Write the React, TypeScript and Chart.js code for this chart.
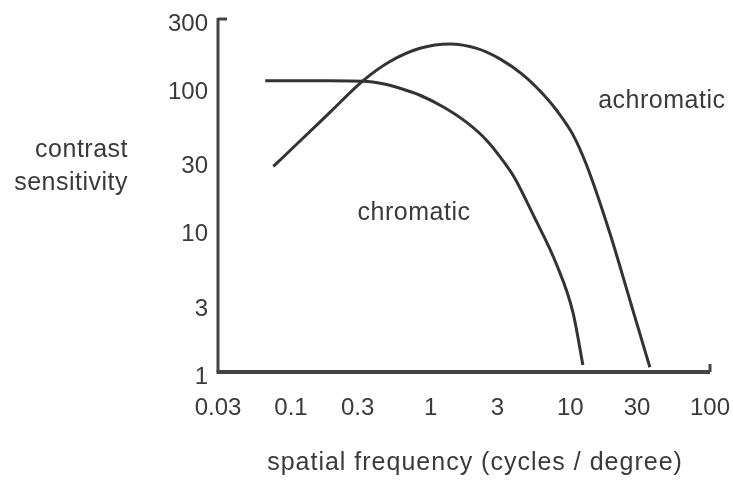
import React, { useEffect, useRef } from "react";
import { Chart, registerables } from "chart.js";

Chart.register(...registerables);

const xTickValues = [0.03, 0.1, 0.3, 1, 3, 10, 30, 100];
const yTickValues = [1, 3, 10, 30, 100, 300];

const achromaticFreq = [0.0747, 0.116, 0.19, 0.327, 0.511, 0.838, 1.374, 2.14, 3.13, 4.58, 6.05, 8.02, 10.43, 13.1, 19.2, 26.7, 37.1];
const achromaticSens = [27.7, 41.8, 66.4, 110.5, 151, 187, 200.6, 186.6, 157.5, 121.7, 94, 68.1, 46.3, 28.1, 9.4, 3.19, 1.08];

const chromaticFreq = [0.0653, 0.188, 0.331, 0.455, 0.603, 0.838, 1.224, 1.82, 2.53, 3.29, 4.01, 5.39, 8.01, 10.43, 12.3];
const chromaticSens = [110.7, 110.7, 109.8, 105.3, 97.9, 87.5, 72.7, 56.2, 42, 30.4, 22.8, 12.8, 5.61, 2.63, 1.12];

const seriesLabels = ["achromatic", "chromatic"];
const labelAnchors = [
  { x: 45.2, y: 80 },
  { x: 0.76, y: 12.96 },
];

const yTitleLines = ["contrast", "sensitivity"];
const xTitle = "spatial frequency (cycles / degree)";

const FONT = '"Liberation Sans", Arial, Helvetica, sans-serif';
const INK = "#3a3a3a";
const LINE = "#333333";

const decorPlugin = {
  id: "decor",
  afterDraw(chart: any) {
    const { ctx, chartArea, scales } = chart;
    const { left, right, top, bottom } = chartArea;
    ctx.save();
    ctx.strokeStyle = "#444444";
    ctx.lineCap = "butt";
    ctx.lineWidth = 3;
    ctx.beginPath();
    ctx.moveTo(left, top - 1);
    ctx.lineTo(left, bottom);
    ctx.stroke();
    ctx.lineWidth = 4;
    ctx.beginPath();
    ctx.moveTo(left - 1.5, bottom);
    ctx.lineTo(right, bottom);
    ctx.stroke();
    ctx.lineWidth = 3;
    ctx.beginPath();
    ctx.moveTo(left, top);
    ctx.lineTo(left + 9, top);
    ctx.stroke();
    ctx.beginPath();
    ctx.moveTo(right, bottom);
    ctx.lineTo(right, bottom - 8);
    ctx.stroke();

    ctx.fillStyle = INK;
    ctx.font = `25px ${FONT}`;
    (ctx as any).letterSpacing = "0.5px";
    ctx.textAlign = "center";
    ctx.textBaseline = "middle";
    seriesLabels.forEach((t, i) => {
      const px = scales.x.getPixelForValue(labelAnchors[i].x);
      const py = scales.y.getPixelForValue(labelAnchors[i].y);
      ctx.fillText(t, px, py);
    });

    ctx.textAlign = "right";
    ctx.fillText(yTitleLines[0], left - 90, top + 131);
    ctx.fillText(yTitleLines[1], left - 90, top + 164);

    ctx.textAlign = "center";
    (ctx as any).letterSpacing = "1px";
    ctx.fillText(xTitle, 475, bottom + 91);
    ctx.restore();
  },
};

export default function App() {
  const ref = useRef<HTMLCanvasElement | null>(null);

  useEffect(() => {
    document.body.style.margin = "0";
    const canvas = ref.current!;
    const chart = new Chart(canvas, {
      type: "line",
      data: {
        datasets: [
          {
            label: seriesLabels[0],
            data: achromaticFreq.map((f, i) => ({ x: f, y: achromaticSens[i] })),
            borderColor: LINE,
            borderWidth: 3,
            pointRadius: 0,
            cubicInterpolationMode: "monotone",
            fill: false,
          },
          {
            label: seriesLabels[1],
            data: chromaticFreq.map((f, i) => ({ x: f, y: chromaticSens[i] })),
            borderColor: LINE,
            borderWidth: 3,
            pointRadius: 0,
            cubicInterpolationMode: "monotone",
            fill: false,
          },
        ],
      },
      options: {
        animation: false,
        responsive: false,
        devicePixelRatio: 1,
        layout: { padding: { top: 19, right: 23, bottom: 0, left: 0 } },
        plugins: {
          legend: { display: false },
          tooltip: { enabled: false },
          title: { display: false },
        },
        scales: {
          x: {
            type: "logarithmic",
            min: 0.03,
            max: 100,
            grid: { display: false, drawTicks: false },
            border: { display: false },
            afterFit: (s: any) => {
              s.height = 109;
              s.paddingLeft = 0;
              s.paddingRight = 0;
            },
            afterBuildTicks: (s: any) => {
              s.ticks = xTickValues.map((v) => ({ value: v }));
            },
            ticks: {
              autoSkip: false,
              maxRotation: 0,
              padding: 22,
              color: INK,
              font: { family: FONT, size: 24 },
              callback: (v: any) => String(v),
            },
          },
          y: {
            type: "logarithmic",
            min: 1,
            max: 300,
            grid: { display: false, drawTicks: false },
            border: { display: false },
            afterFit: (s: any) => {
              s.width = 218;
              s.paddingTop = 0;
              s.paddingBottom = 0;
            },
            afterBuildTicks: (s: any) => {
              s.ticks = yTickValues.map((v) => ({ value: v }));
            },
            ticks: {
              autoSkip: false,
              padding: 10,
              labelOffset: 5,
              color: INK,
              font: { family: FONT, size: 24 },
              callback: (v: any) => String(v),
            },
          },
        },
      },
      plugins: [decorPlugin],
    });
    return () => chart.destroy();
  }, []);

  return (
    <div style={{ position: "absolute", left: 0, top: 0, width: 733, height: 481, background: "#fff" }}>
      <canvas ref={ref} width={733} height={481} />
    </div>
  );
}
